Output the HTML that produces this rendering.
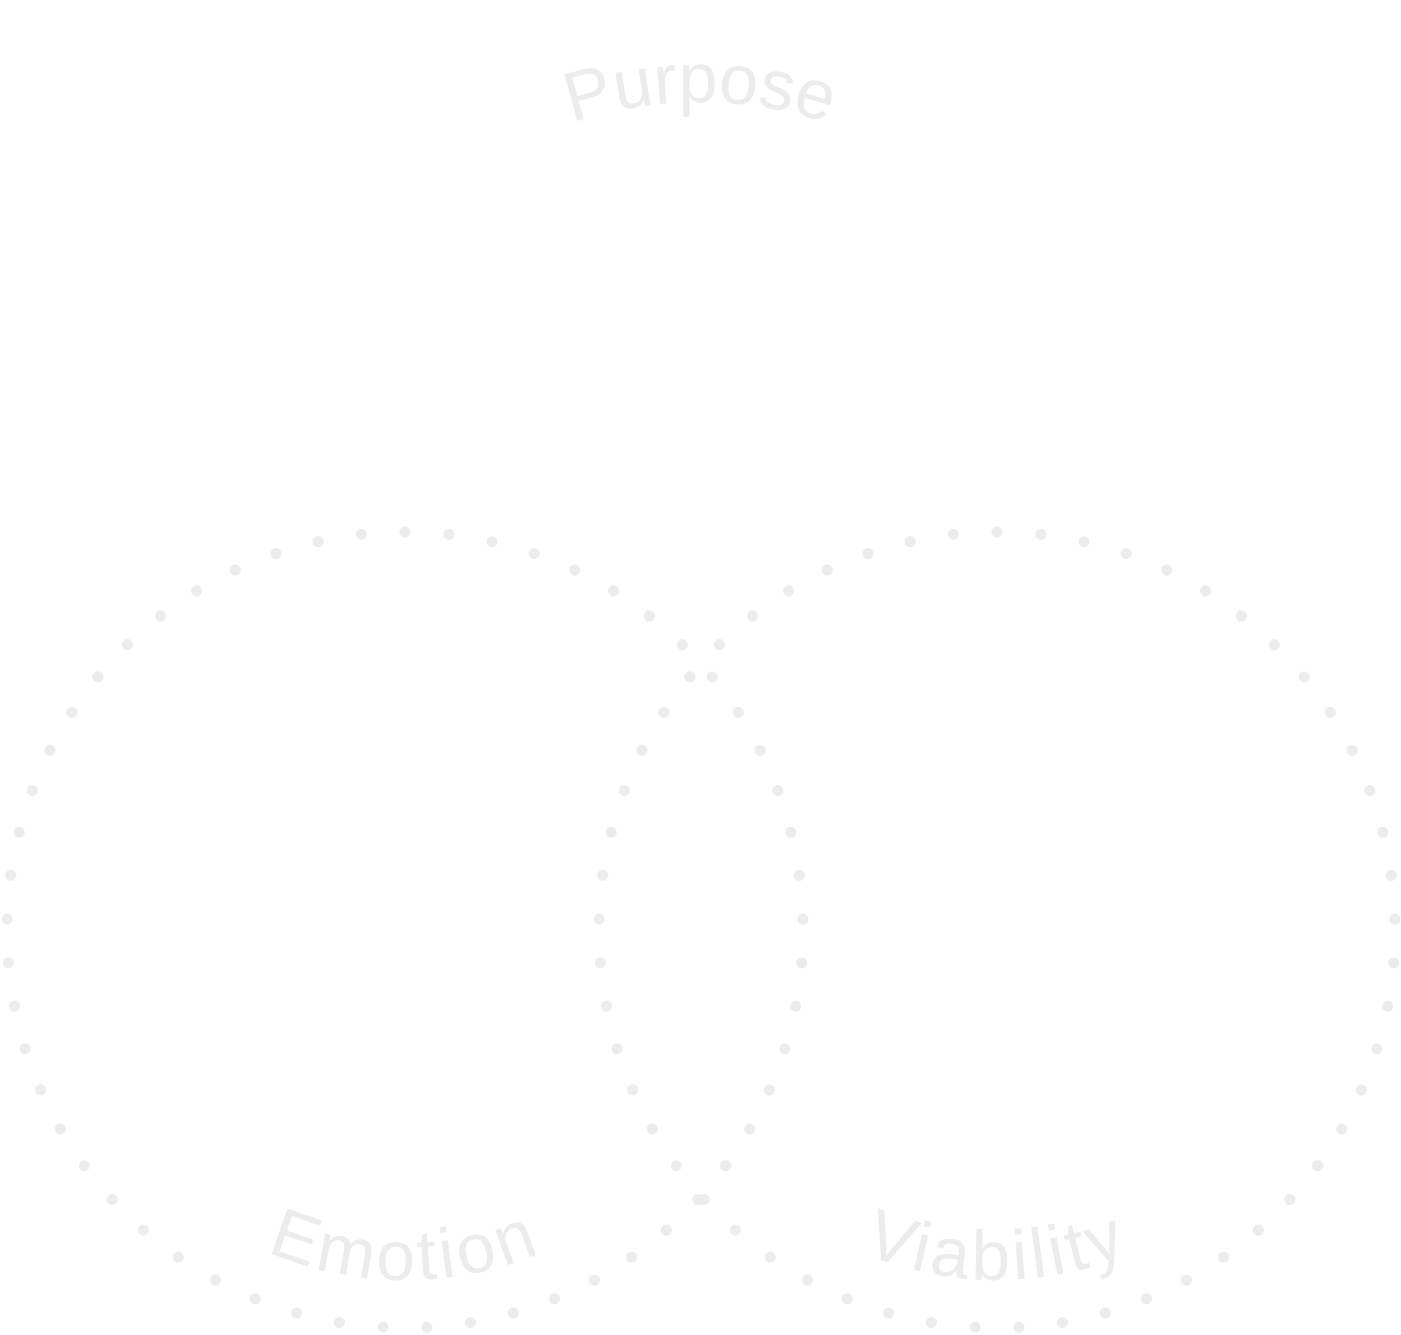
<!DOCTYPE html>
<html><head><meta charset="utf-8"><style>
html,body{margin:0;padding:0;background:#fff;}
svg{display:block;}
text{font-family:"Liberation Sans","DejaVu Sans",sans-serif;fill:#ececec;font-size:70px;}
</style></head><body>
<svg width="1401" height="1335" viewBox="0 0 1401 1335" xmlns="http://www.w3.org/2000/svg">
<defs>
<path id="pp" d="M 300 502 A 400 400 0 0 1 1100 502"/>
<path id="pe" d="M 55 930 A 350 350 0 0 0 755 930"/>
<path id="pv" d="M 647 930 A 350 350 0 0 0 1347 930"/>
</defs>
<circle cx="405" cy="930" r="398" fill="none" stroke="#ececec" stroke-width="11" stroke-linecap="round" stroke-dasharray="0 43.87" transform="rotate(-90 405 930)"/>
<circle cx="997" cy="930" r="398" fill="none" stroke="#ececec" stroke-width="11" stroke-linecap="round" stroke-dasharray="0 43.87" transform="rotate(-90 997 930)"/>
<text><textPath href="#pp" startOffset="50%" text-anchor="middle">Purpose</textPath></text>
<text letter-spacing="4"><textPath href="#pe" startOffset="50%" text-anchor="middle">Emotion</textPath></text>
<text letter-spacing="4"><textPath href="#pv" startOffset="50%" text-anchor="middle">Viability</textPath></text>
</svg>
</body></html>
